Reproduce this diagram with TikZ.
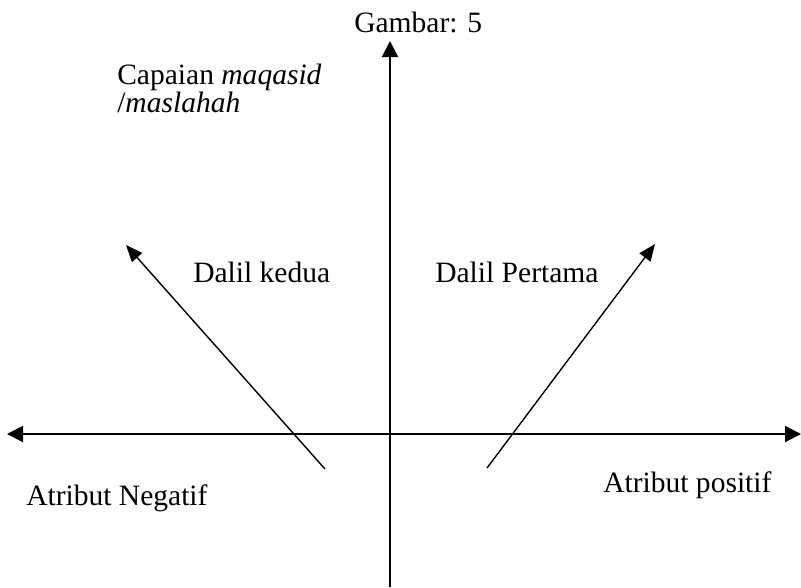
\documentclass[tikz,border=0pt]{standalone}
\usepackage{fontspec}
\setmainfont{Liberation Serif}[ItalicFont={Liberation Serif Italic}]
\usetikzlibrary{arrows.meta}

\begin{document}
\begin{tikzpicture}[x=0.025cm, y=-0.025cm,
    every node/.style={font=\fontsize{21}{28}\selectfont, inner sep=0pt, anchor=base west},
    axis/.style={line width=1.4pt, {Triangle[length=0.4cm, width=0.4cm]}-{Triangle[length=0.4cm, width=0.4cm]}},
    onlyup/.style={line width=1.4pt, -{Triangle[length=0.4cm, width=0.4cm]}},
    dalil/.style={line width=1pt, -{Triangle[length=0.42cm, width=0.34cm]}}]
    \useasboundingbox (0,0) rectangle (801,587);

    % Axes
    \coordinate (W) at (7,434);   \coordinate (E) at (801,434);
    \coordinate (S) at (390,587); \coordinate (N) at (390,41);
    \draw[axis] (W) -- (E);
    \draw[onlyup] (S) -- (N);

    % Dalil arrows
    \coordinate (K1) at (325,469); \coordinate (K2) at (126,245);
    \coordinate (P1) at (487,468); \coordinate (P2) at (655,244);
    \draw[dalil] (K1) -- (K2);
    \draw[dalil] (P1) -- (P2);

    % Labels
    \node (gambar) at (354,32) {Gambar: 5};
    \node (capai) at (117,84) {Capaian \textit{maqasid}};
    \node (masl) at (117,112) {/\textit{maslahah}};
    \node (kedua) at (193,282) {Dalil kedua};
    \node (pertama) at (435,282) {Dalil Pertama};
    \node (negatif) at (26,505) {Atribut Negatif};
    \node (positif) at (603,492) {Atribut positif};
\end{tikzpicture}
\end{document}
